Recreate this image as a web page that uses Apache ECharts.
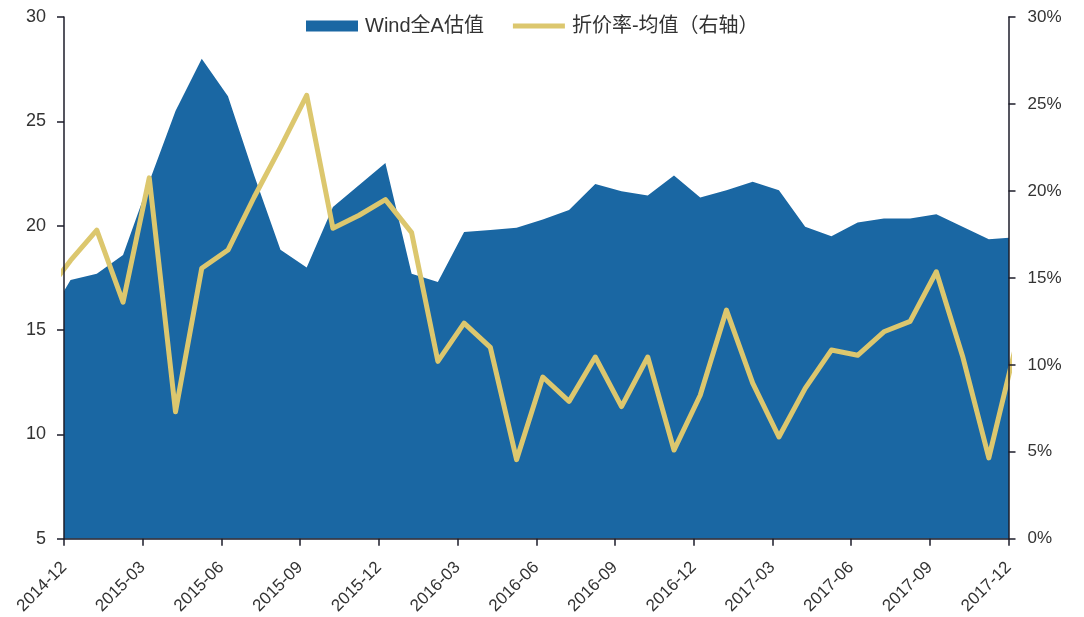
<!DOCTYPE html>
<html><head><meta charset="utf-8">
<style>html,body{margin:0;padding:0;background:#fff}#c{width:1084px;height:617px}</style>
<script src="https://cdn.jsdelivr.net/npm/echarts@6/dist/echarts.min.js"></script>
</head><body><div id="c"></div>
<script>
const tickLabels = ['2014-12','2015-03','2015-06','2015-09','2015-12','2016-03','2016-06','2016-09','2016-12','2017-03','2017-06','2017-09','2017-12'];
const seriesNames = ['Wind全A估值','折价率-均值（右轴）'];
// months after 2014-12 of the first sample: samples sit part-way through each month, and the first and last are clipped by the plot edges
const firstMonth = -0.75;
const valuation = [15.3,17.4,17.7,18.6,22.1,25.5,28.0,26.2,22.4,18.85,18.0,20.9,21.95,23.0,17.7,17.3,19.7,19.8,19.9,20.3,20.75,22.0,21.65,21.45,22.4,21.35,21.7,22.1,21.7,19.95,19.5,20.15,20.35,20.35,20.55,19.95,19.35,19.45];
const discount = [14.0,16.0,17.75,13.6,20.75,7.3,15.55,16.6,19.65,22.5,25.5,17.85,18.6,19.5,17.6,10.2,12.4,11.0,4.55,9.3,7.9,10.45,7.6,10.45,5.1,8.25,13.15,8.95,5.85,8.65,10.85,10.55,11.9,12.5,15.35,10.5,4.65,10.9];

const font = 'Liberation Sans, Noto Sans CJK SC, sans-serif';
const ink = '#333333', axisInk = '#1c1c2a';
const blue = '#1a67a3', gold = '#dcc76e';
const asPoints = a => a.map((v, i) => [firstMonth + i, v]);
const axisLine = {show: true, lineStyle: {color: axisInk, width: 1.5}};
const axisTick = {show: true, length: 7, lineStyle: {color: axisInk, width: 1.5}};

const chart = echarts.init(document.getElementById('c'), null, {renderer: 'canvas'});
chart.setOption({
  animation: false,
  backgroundColor: '#fff',
  textStyle: {fontFamily: font},
  legend: {
    top: 11, left: 301, itemGap: 29, itemWidth: 52, itemHeight: 11,
    selectedMode: false,
    textStyle: {fontFamily: font, fontSize: 20, color: ink, padding: [0, 0, 0, 2]},
    data: [
      {name: seriesNames[0], icon: 'rect'},
      {name: seriesNames[1], icon: 'path://M0,0H52V5H0Z'}
    ]
  },
  grid: {left: 64, right: 75.5, top: 17, bottom: 78},
  xAxis: {
    type: 'value', min: 0, max: 36, interval: 3, z: 5,
    splitLine: {show: false}, axisLine, axisTick,
    axisLabel: {
      rotate: 45, fontSize: 17, color: ink, margin: 26, fontFamily: font,
      showMinLabel: true, showMaxLabel: true,
      formatter: v => tickLabels[v / 3]
    }
  },
  yAxis: [
    {type: 'value', min: 5, max: 30, interval: 5, z: 5, splitLine: {show: false}, axisLine, axisTick,
     axisLabel: {fontSize: 18, color: ink, margin: 18, fontFamily: font}},
    {type: 'value', min: 0, max: 30, interval: 5, z: 5, position: 'right', splitLine: {show: false}, axisLine, axisTick,
     axisLabel: {fontSize: 17, color: ink, margin: 19, fontFamily: font, formatter: '{value}%'}}
  ],
  series: [
    {name: seriesNames[0], type: 'line', yAxisIndex: 0, data: asPoints(valuation), symbol: 'none', clip: true,
     lineStyle: {width: 0, color: blue}, itemStyle: {color: blue}, areaStyle: {color: blue, opacity: 1}, z: 2},
    {name: seriesNames[1], type: 'line', yAxisIndex: 1, data: asPoints(discount), symbol: 'none', clip: true,
     lineStyle: {width: 5, color: gold, join: 'round'}, itemStyle: {color: gold}, z: 3}
  ]
});
</script></body></html>
